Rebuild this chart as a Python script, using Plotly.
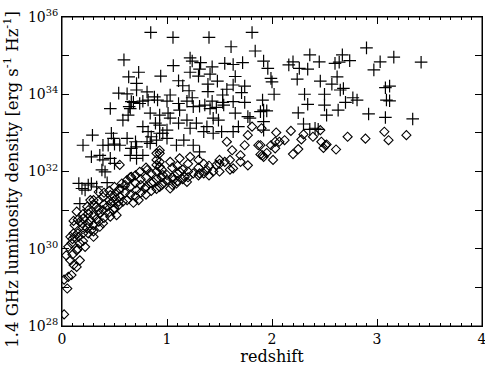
import plotly.graph_objects as go

FONT = "DejaVu Serif"

# '+' sources: redshift and log10 of 1.4 GHz luminosity density (erg/s/Hz)
z_plus = [
    0.845, 1.057, 1.40, 1.81, 1.84, 1.61, 0.59, 1.22, 1.24, 1.32, 1.06, 1.43, 1.55, 1.63, 1.72,
    0.635, 0.73, 0.94, 1.31, 1.30, 1.22, 1.41, 1.65, 1.11, 0.71, 1.15, 1.48, 1.39, 1.63, 1.74,
    0.54, 0.62, 0.71, 0.81, 1.21, 1.39, 1.57, 1.71, 1.53, 0.88, 1.03, 0.77, 0.68, 0.91, 1.00,
    1.11, 1.19, 1.24, 1.43, 1.53, 1.63, 1.74, 0.46, 0.64,
    1.92, 1.96, 1.99, 2.00, 2.02, 1.91, 2.16, 2.20, 2.26, 2.34, 2.36, 2.45, 2.24, 2.46, 2.57,
    2.62, 2.60, 2.64, 2.67, 2.74, 2.90, 3.03, 2.97, 3.16, 3.42, 2.31, 2.50, 2.65, 2.68, 2.34,
    2.50, 2.70, 2.77, 2.81, 3.08, 3.12, 3.09, 3.12,
    2.63, 2.52, 2.92, 3.08, 3.34,
    2.25, 2.30, 2.36, 2.41, 2.44, 1.92, 1.92, 1.92, 1.95,
    1.12, 1.25, 1.31, 1.36, 1.41, 1.47, 1.54, 1.65, 1.89,
    1.03, 1.11, 1.19, 1.22, 1.28, 1.35, 1.38, 1.44, 1.52, 1.63, 1.68,
    0.93, 0.96, 1.00, 1.09, 1.16, 1.25, 1.31,
    0.65, 0.63, 0.58, 0.29, 0.20, 0.47, 0.49, 0.39, 0.44, 0.50, 0.55, 0.62, 0.70, 0.71, 0.66,
    0.28, 0.36, 0.39, 0.46, 0.50, 0.38, 0.41, 0.16, 0.19, 0.22, 0.17, 0.28, 0.33, 0.77, 0.82,
    0.85, 0.81, 0.65, 0.71, 0.77, 0.84, 0.90, 0.93, 1.00, 0.66, 0.74, 0.82, 0.84, 0.93, 1.01, 0.89,
    0.25, 0.43, 0.58, 1.79, 1.77, 1.44, 1.49,
]
logL_plus = [
    35.60, 35.47, 35.47, 35.60, 35.12, 35.23, 34.89, 34.94, 34.86, 34.82, 34.74, 34.71, 34.80, 34.77, 34.82,
    34.45, 34.57, 34.47, 34.65, 34.47, 34.57, 34.52, 34.46, 34.35, 34.28, 34.22, 34.34, 34.26, 34.24, 34.21,
    34.03, 34.01, 34.11, 34.06, 34.09, 34.07, 34.13, 34.04, 33.98, 33.93, 33.98, 33.82, 33.79, 33.85, 33.82,
    33.76, 33.82, 33.91, 33.82, 33.79, 33.81, 33.79, 33.63, 33.68,
    34.86, 34.67, 34.41, 34.32, 34.00, 33.85, 34.76, 34.84, 34.67, 34.65, 35.02, 34.84, 34.39, 34.34, 34.26,
    34.45, 34.80, 34.83, 35.02, 34.87, 35.20, 34.84, 34.63, 34.96, 34.83, 34.00, 34.00, 34.11, 34.15, 33.74,
    33.72, 33.79, 33.91, 33.85, 34.17, 34.21, 33.85, 33.83,
    33.59, 33.46, 33.49, 33.40, 33.36,
    33.52, 33.23, 33.09, 33.12, 33.09, 33.59, 33.29, 33.07, 33.57,
    33.59, 33.68, 33.69, 33.72, 33.63, 33.66, 33.72, 33.51, 33.55,
    33.38, 33.25, 33.33, 33.12, 33.25, 33.03, 33.16, 32.99, 33.03, 33.03, 33.16,
    33.20, 32.99, 32.86, 32.68, 32.81, 32.68, 32.51,
    33.63, 33.46, 33.33, 32.94, 32.68, 32.99, 32.86, 32.68, 32.68, 32.71, 32.68, 32.86, 32.77, 32.64, 32.60,
    32.38, 32.42, 32.30, 32.34, 32.21, 32.04, 31.99, 31.69, 31.56, 31.52, 31.17, 31.69, 31.60, 33.16, 33.03,
    32.90, 32.77, 32.42, 32.34, 32.42, 32.73, 32.81, 32.99, 33.07, 33.81, 33.76, 33.85, 33.51, 33.46, 33.51, 33.25,
    31.65, 31.71, 31.60, 33.38, 33.42, 33.38, 33.33,
]

# diamond sources
z_diam = [
    2.46, 2.72, 2.89, 3.07, 3.11, 3.28, 2.51, 2.49, 2.61, 2.47,
    2.04, 2.18, 2.30, 2.28, 2.39, 2.52, 1.89, 1.89, 1.99, 2.03, 2.07, 2.12, 2.03, 1.95, 1.92,
    1.91, 2.01, 2.20, 2.25,
    1.57, 1.74, 1.77, 1.81, 1.87, 1.62, 1.70, 1.63, 1.77, 1.50, 1.55, 1.47, 1.44, 1.38, 1.31,
    1.25, 1.12, 1.17, 1.06, 1.00, 0.96, 1.03, 1.09, 1.19, 0.93, 0.93, 1.03, 1.12, 1.22,
    1.90, 1.70,
    0.55, 0.57, 0.62, 0.66, 0.74, 0.81, 0.90, 0.93, 0.96, 0.30, 0.35, 0.39, 0.46, 0.52, 0.54,
    0.62, 0.71, 0.79, 0.87, 0.93, 1.00, 0.90, 0.93,
    0.02, 0.05, 0.02, 0.06, 0.09, 0.11, 0.08, 0.04, 0.06, 0.09, 0.08, 0.11, 0.12, 0.11, 0.14,
    0.17, 0.16, 0.20, 0.24, 0.19, 0.27, 0.30, 0.33, 0.25, 0.36, 0.39, 0.43, 0.46, 0.49, 0.54,
    0.58, 0.68, 0.73, 0.12, 0.17, 0.14, 0.22, 0.30, 0.28, 0.39, 0.46, 0.49, 0.52, 0.36, 0.20,
    0.17, 0.33, 0.24, 0.27, 0.14,
    0.55, 0.55, 0.60, 0.60, 0.65, 0.65, 0.65, 0.70, 0.70, 0.70, 0.75, 0.75, 0.75, 0.80, 0.80,
    0.80, 0.80, 0.85, 0.85, 0.85, 0.90, 0.90, 0.90, 0.90, 0.95, 0.95, 0.95, 1.05, 1.05, 1.05,
    1.10, 1.10, 1.10, 1.15, 1.15, 1.20, 1.20, 1.20, 1.30, 1.30, 1.30, 1.35, 1.35, 1.40, 1.40,
    1.50, 1.50, 1.60, 1.60, 0.35, 0.35, 0.35, 0.40, 0.40, 0.40, 0.45, 0.45, 0.45, 0.50, 0.50,
    0.50, 0.25, 0.25, 0.25, 0.20, 0.20, 0.20, 0.15, 0.15, 0.15, 0.10, 0.10, 0.30, 0.30, 0.30,
]
logL_diam = [
    33.07, 32.90, 32.85, 33.03, 32.81, 32.94, 32.68, 32.61, 32.57, 32.77,
    33.01, 33.05, 32.96, 32.83, 32.90, 32.70, 32.68, 32.44, 32.68, 32.77, 32.77, 32.81, 32.60, 32.48, 32.38,
    32.42, 32.30, 32.45, 32.58,
    32.77, 32.68, 32.94, 33.16, 32.68, 32.55, 32.42, 32.08, 32.16, 32.30, 32.25, 32.17, 32.00, 32.04, 31.95,
    31.95, 32.00, 31.86, 31.78, 31.91, 31.69, 31.56, 31.69, 31.73, 32.47, 32.12, 32.25, 32.34, 32.38,
    33.12, 32.25,
    32.17, 31.69, 31.78, 31.86, 31.99, 32.04, 32.17, 32.25, 31.91, 31.26, 31.47, 31.34, 31.39, 31.47, 31.22,
    31.26, 31.52, 31.56, 31.73, 31.60, 31.78, 32.47, 32.55,
    28.30, 28.97, 29.20, 29.27, 29.32, 29.58, 29.70, 29.83, 30.05, 30.14, 30.31, 30.40, 30.61, 30.72, 29.96,
    30.14, 30.31, 30.40, 30.53, 30.66, 30.74, 30.61, 30.78, 30.91, 30.91, 31.00, 31.09, 31.17, 31.22, 31.13,
    31.22, 31.19, 31.26, 30.31, 29.70, 29.53, 30.05, 30.31, 30.48, 30.66, 30.83, 31.00, 30.87, 30.57, 30.78,
    30.70, 31.09, 31.09, 31.26, 30.96,
    31.35, 31.55, 31.45, 31.65, 31.40, 31.60, 31.85, 31.35, 31.70, 31.90, 31.45, 31.65, 31.80, 31.40, 31.60,
    31.85, 32.10, 31.50, 31.70, 31.95, 31.55, 31.80, 32.00, 32.30, 31.65, 31.85, 32.05, 31.65, 31.85, 32.10,
    31.75, 31.95, 32.15, 31.80, 32.05, 31.85, 32.00, 32.20, 31.90, 32.10, 32.30, 31.95, 32.20, 31.90, 32.15,
    32.00, 32.20, 32.05, 32.30, 30.70, 31.00, 31.25, 30.80, 31.15, 31.45, 30.95, 31.25, 31.50, 31.05, 31.35,
    31.60, 30.40, 30.65, 31.00, 30.20, 30.55, 30.90, 30.00, 30.40, 30.75, 29.85, 30.25, 30.45, 30.85, 31.15,
]

x_ticks = [0, 1, 2, 3, 4]
y_tick_exps = [28, 29, 30, 31, 32, 33, 34, 35, 36]  # labelled every second decade

lum_plus = [10.0 ** v for v in logL_plus]
lum_diam = [10.0 ** v for v in logL_diam]

fig = go.Figure()
fig.add_trace(go.Scatter(
    x=z_diam, y=lum_diam, mode="markers",
    marker=dict(symbol="diamond-open", size=7, color="black", line=dict(width=1.1, color="black")),
))
fig.add_trace(go.Scatter(
    x=z_plus, y=lum_plus, mode="markers",
    marker=dict(symbol="cross-thin-open", size=9, color="black", line=dict(width=1.2, color="black")),
))

fig.update_xaxes(
    range=[0, 4], tickvals=x_ticks, ticktext=[str(t) for t in x_ticks],
    ticks="inside", ticklen=7, tickcolor="black", showline=True, linecolor="black",
    linewidth=1, mirror="ticks", showgrid=False, zeroline=False, ticklabeloverflow="allow",
    minor=dict(dtick=0.1, ticks="inside", ticklen=3, tickcolor="black", showgrid=False),
    tickfont=dict(family=FONT, size=14, color="black"),
    title=dict(text="redshift", font=dict(family=FONT, size=16, color="black"), standoff=4),
)
fig.update_yaxes(
    type="log", range=[28, 36],
    tickvals=[10.0 ** e for e in y_tick_exps],
    ticktext=[f"10<sup>{e}</sup>" if e % 2 == 0 else "" for e in y_tick_exps],
    ticks="inside", ticklen=7, tickcolor="black", showline=True, linecolor="black",
    linewidth=1, mirror="ticks", showgrid=False, zeroline=False, ticklabeloverflow="allow",
    tickfont=dict(family=FONT, size=14, color="black"),
)
# plot frame, in case a mirrored line gets dropped
fig.add_shape(type="rect", xref="paper", yref="paper", x0=0, x1=1, y0=0, y1=1,
              line=dict(color="black", width=1), layer="above")
# rotated y title as annotation so it can sit a little below the plot centre like the original
fig.add_annotation(
    text="1.4 GHz luminosity density [erg s<sup>-1</sup> Hz<sup>-1</sup>]",
    textangle=-90, xref="paper", yref="paper", x=-0.12, y=0.475,
    xanchor="center", yanchor="middle", showarrow=False,
    font=dict(family=FONT, size=16.5, color="black"),
)
fig.update_layout(
    width=485, height=367,
    margin=dict(l=62, r=3, t=17, b=41, autoexpand=False),
    plot_bgcolor="white", paper_bgcolor="white",
    showlegend=False,
)
fig.write_html(
    "out.html",
    config={"displayModeBar": False},
    post_script="document.body.style.margin='0';",
)
